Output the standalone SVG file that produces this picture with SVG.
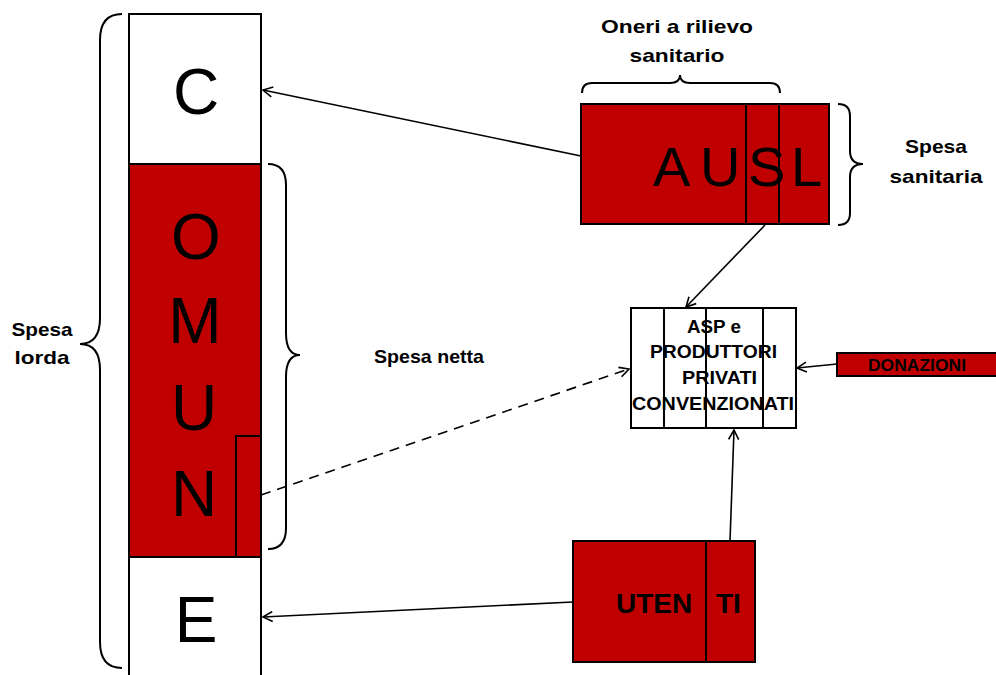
<svg xmlns="http://www.w3.org/2000/svg" width="996" height="675" viewBox="0 0 996 675">
<defs>
<style>
.box{stroke:#000;stroke-width:2}
.red{fill:#C00000}
.white{fill:#fff}
.brace{fill:none;stroke:#000;stroke-width:2}
.con{fill:none;stroke:#000;stroke-width:1.6}
.lbl{font-family:"Liberation Sans",Arial,sans-serif;font-weight:bold;fill:#000}
.big{font-family:"Liberation Sans",Arial,sans-serif;fill:#000}
</style>
<marker id="arr" markerWidth="12" markerHeight="12" viewBox="0 0 12 12" refX="10.5" refY="6" orient="auto" markerUnits="userSpaceOnUse">
<path d="M1,1 L10.5,6 L1,11" fill="none" stroke="#000" stroke-width="1.6"/>
</marker>
</defs>
<rect width="996" height="675" fill="#fff"/>

<g id="comune">
<rect class="box white" x="129" y="14" width="132" height="700"/>
<rect class="box red" x="129" y="164" width="132" height="393"/>
<rect class="box red" x="236" y="436" width="25" height="121"/>
<g class="big" font-size="64" text-anchor="middle">
<text x="196" y="114">C</text>
<text x="196" y="259">O</text>
<text x="195" y="343">M</text>
<text x="194" y="430">U</text>
<text x="194" y="516">N</text>
<text x="196" y="642">E</text>
</g>
</g>

<g id="spesa-lorda">
<path class="brace" d="M122,14 Q100,14 100,40 L100,318 Q100,344 80,344 Q100,344 100,370 L100,642 Q100,668 122,668"/>
<text class="lbl" font-size="19" text-anchor="middle" x="42" y="336" textLength="61" lengthAdjust="spacingAndGlyphs">Spesa</text>
<text class="lbl" font-size="19" text-anchor="middle" x="42" y="364" textLength="55" lengthAdjust="spacingAndGlyphs">lorda</text>
</g>

<g id="spesa-netta">
<path class="brace" d="M268,164 Q286,164 286,185 L286,333 Q286,355 300,355 Q286,355 286,377 L286,528 Q286,549 268,549"/>
<text class="lbl" font-size="19" text-anchor="middle" x="429" y="363" textLength="110" lengthAdjust="spacingAndGlyphs">Spesa netta</text>
</g>

<g id="ausl">
<rect class="box red" x="581" y="104" width="248" height="120"/>
<line class="box" x1="746" y1="104" x2="746" y2="224"/>
<line class="box" x1="779" y1="104" x2="779" y2="224"/>
<text class="big" font-size="56" x="653 700 748 791" y="186">AUSL</text>
</g>

<g id="oneri">
<path class="brace" d="M582,93 Q582,83 592,83 L670,83 Q680,83 680,75 Q680,83 690,83 L770,83 Q780,83 780,93"/>
<text class="lbl" font-size="19" text-anchor="middle" x="677" y="33" textLength="152" lengthAdjust="spacingAndGlyphs">Oneri a rilievo</text>
<text class="lbl" font-size="19" text-anchor="middle" x="677" y="62" textLength="95" lengthAdjust="spacingAndGlyphs">sanitario</text>
</g>

<g id="spesa-sanitaria">
<path class="brace" d="M838,104 Q850,104 850,116 L850,151 Q850,164 863,164 Q850,164 850,177 L850,213 Q850,225 838,225"/>
<text class="lbl" font-size="19" text-anchor="middle" x="936" y="153" textLength="62" lengthAdjust="spacingAndGlyphs">Spesa</text>
<text class="lbl" font-size="19" text-anchor="middle" x="936" y="183" textLength="93" lengthAdjust="spacingAndGlyphs">sanitaria</text>
</g>

<g id="asp">
<rect class="box white" x="631" y="308" width="165" height="120" stroke-width="1.6"/>
<line class="box" x1="664" y1="308" x2="664" y2="428" stroke-width="1.6"/>
<line class="box" x1="706" y1="308" x2="706" y2="428" stroke-width="1.6"/>
<line class="box" x1="763" y1="308" x2="763" y2="428" stroke-width="1.6"/>
<g class="lbl" font-size="18" text-anchor="middle">
<text x="714" y="333" textLength="54" lengthAdjust="spacingAndGlyphs">ASP e</text>
<text x="713.5" y="358" textLength="127" lengthAdjust="spacingAndGlyphs">PRODUTTORI</text>
<text x="719.5" y="384" textLength="75" lengthAdjust="spacingAndGlyphs">PRIVATI</text>
<text x="713" y="410" textLength="162" lengthAdjust="spacingAndGlyphs">CONVENZIONATI</text>
</g>
</g>

<g id="donazioni">
<rect class="box red" x="837" y="353" width="170" height="23" stroke-width="1.6"/>
<text class="lbl" font-size="16" text-anchor="middle" x="917" y="371" textLength="98" lengthAdjust="spacingAndGlyphs">DONAZIONI</text>
</g>

<g id="utenti">
<rect class="box red" x="573" y="541" width="182" height="121"/>
<line class="box" x1="706" y1="541" x2="706" y2="662"/>
<text class="lbl" font-size="28" y="613"><tspan x="616">UTEN</tspan> <tspan x="716">TI</tspan></text>
</g>

<g id="connectors">
<path class="con" d="M581,156 L263,90" marker-end="url(#arr)"/>
<path class="con" d="M765,225 L686,307" marker-end="url(#arr)"/>
<path class="con" d="M837,364 L797,368" marker-end="url(#arr)"/>
<path class="con" d="M261,495 L629,369" stroke-dasharray="10,7" marker-end="url(#arr)"/>
<path class="con" d="M573,602 L263,617" marker-end="url(#arr)"/>
<path class="con" d="M730,541 L734,430" marker-end="url(#arr)"/>
</g>
</svg>
